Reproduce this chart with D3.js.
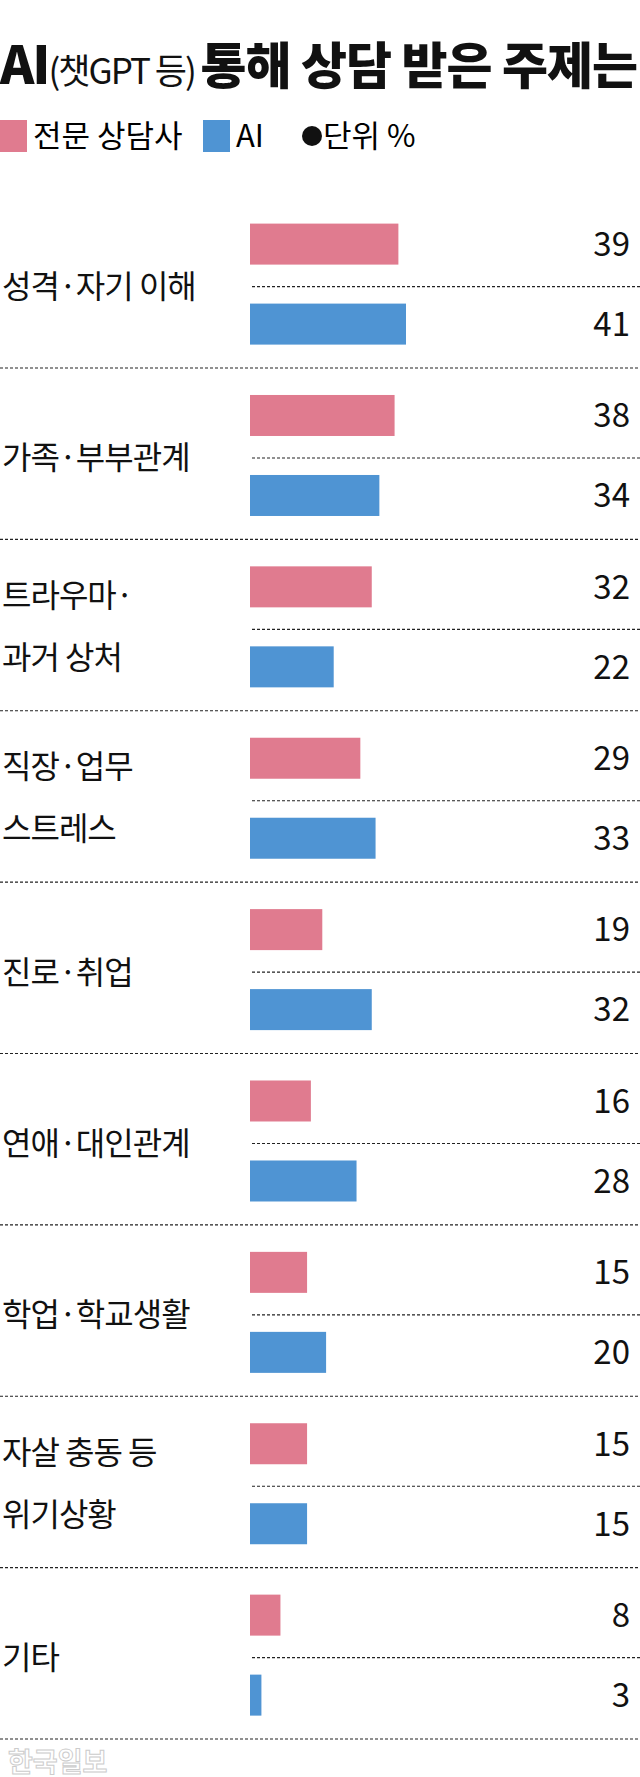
<!DOCTYPE html>
<html><head><meta charset="utf-8">
<script src="https://cdn.jsdelivr.net/npm/d3@7"></script>
<style>body{margin:0;background:#fff}</style>
</head><body>
<script>
// data
var categories = [["성격·자기 이해"], ["가족·부부관계"], ["트라우마·", "과거 상처"], ["직장·업무", "스트레스"],
	["진로·취업"], ["연애·대인관계"], ["학업·학교생활"], ["자살 충동 등", "위기상황"], ["기타"]];
var counselor = [39, 38, 32, 29, 19, 16, 15, 15, 8];
var ai = [41, 34, 22, 33, 32, 28, 20, 15, 3];
var seriesNames = ["전문 상담사", "AI"];
var colors = ["#e07b8f", "#4f94d3"];

var W = 640, H = 1777;
var font = "'Noto Sans CJK KR', 'Noto Sans', sans-serif";
var svg = d3.select("body").append("svg").attr("width", W).attr("height", H)
	.style("font-family", font);

// title
var t = svg.append("text").attr("x", 0).attr("y", 84).attr("fill", "#111");
t.append("tspan").text("AI").attr("font-size", 52).attr("font-weight", 900).attr("letter-spacing", -2);
t.append("tspan").text("(챗GPT 등) ").attr("font-size", 35).attr("font-weight", 400).attr("letter-spacing", -2);
t.append("tspan").text("통해 상담 받은 주제는").attr("font-size", 50).attr("font-weight", 900).attr("letter-spacing", -1);

// legend
var lg = svg.append("g").attr("transform", "translate(0,136)");
lg.append("rect").attr("x", 0).attr("y", -16).attr("width", 27).attr("height", 32).attr("fill", colors[0]);
lg.append("text").attr("x", 33).attr("y", 11).attr("font-size", 31).text(seriesNames[0]);
lg.append("rect").attr("x", 203).attr("y", -16).attr("width", 27).attr("height", 32).attr("fill", colors[1]);
lg.append("text").attr("x", 236).attr("y", 11).attr("font-size", 31).text(seriesNames[1]);
lg.append("circle").attr("cx", 312).attr("cy", 0).attr("r", 10).attr("fill", "#111");
lg.append("text").attr("x", 323).attr("y", 11).attr("font-size", 31).text("단위  %");

var x = d3.scaleLinear().domain([0, 41]).range([250, 406]);
var y = d3.scaleBand().domain(d3.range(categories.length)).range([196.6, 1739]).padding(0);
var bh = 41;

var g = svg.selectAll("g.grp").data(categories).join("g").attr("class", "grp")
	.attr("transform", function(d, i) { return "translate(0," + y(i) + ")"; });
var step = y.bandwidth();

g.append("rect").attr("x", x(0)).attr("y", 27).attr("height", bh)
	.attr("width", function(d, i) { return x(counselor[i]) - x(0); }).attr("fill", colors[0]);
g.append("rect").attr("x", x(0)).attr("y", 107).attr("height", bh)
	.attr("width", function(d, i) { return x(ai[i]) - x(0); }).attr("fill", colors[1]);

g.append("line").attr("x1", x(0) + 2).attr("x2", W).attr("y1", 90).attr("y2", 90)
	.attr("stroke", "#222").attr("stroke-width", 1.2).attr("stroke-dasharray", "3,2");
g.append("line").attr("x1", 0).attr("x2", W).attr("y1", step).attr("y2", step)
	.attr("stroke", "#222").attr("stroke-width", 1.2).attr("stroke-dasharray", "3,2");

g.append("text").attr("x", 630).attr("y", 47.5).attr("dy", "0.36em").attr("text-anchor", "end")
	.attr("font-size", 33).attr("fill", "#111").text(function(d, i) { return counselor[i]; });
g.append("text").attr("x", 630).attr("y", 127.5).attr("dy", "0.36em").attr("text-anchor", "end")
	.attr("font-size", 33).attr("fill", "#111").text(function(d, i) { return ai[i]; });

g.each(function(d) {
	var sel = d3.select(this);
	var ys = d.length == 1 ? [90] : [56, 118];
	d.forEach(function(line, j) {
		sel.append("text").attr("x", 2).attr("y", ys[j]).attr("dy", "0.36em")
			.attr("font-size", 32).attr("fill", "#111").attr("letter-spacing", -1).text(line);
	});
});

// watermark
svg.append("text").attr("x", 8).attr("y", 1772).attr("font-size", 27).attr("font-weight", 700)
	.attr("fill", "#fff").attr("stroke", "#ccc").attr("stroke-width", 1).text("한국일보");
</script>
</body></html>
